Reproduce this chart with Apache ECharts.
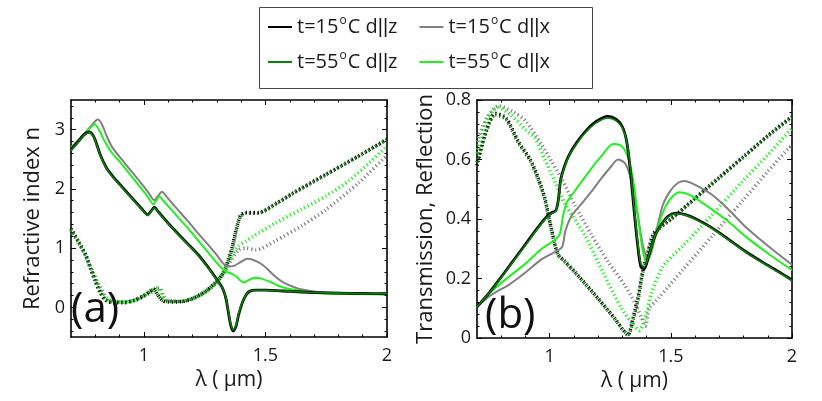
<!DOCTYPE html>
<html><head><meta charset="utf-8">
<script src="https://cdn.jsdelivr.net/npm/echarts@6/dist/echarts.min.js"></script>
<style>html,body{margin:0;padding:0;background:#fff}#c{width:822px;height:401px}</style>
</head><body><div id="c"></div>
<script>
// ---- data ----
const legendNames = ['t=15°C d||z', 't=15°C d||x', 't=55°C d||z', 't=55°C d||x'];
const xTickMajor = [1, 1.5, 2];
const xTickMinor = [0.8, 0.9, 1.1, 1.2, 1.3, 1.4, 1.6, 1.7, 1.8, 1.9];
const yTickMajorA = [0, 1, 2, 3];
const yTickMinorA = [-0.4, -0.2, 0.2, 0.4, 0.6, 0.8, 1.2, 1.4, 1.6, 1.8, 2.2, 2.4, 2.6, 2.8, 3.2, 3.4];
const yTickMajorB = [0, 0.2, 0.4, 0.6, 0.8];
const yTickMinorB = [0.04, 0.08, 0.12, 0.16, 0.24, 0.28, 0.32, 0.36, 0.44, 0.48, 0.52, 0.56, 0.64, 0.68, 0.72, 0.76];

// panel (a): refractive index, real part (solid)
const nRe15z = [[0.70,2.66],[0.73,2.80],[0.755,2.92],[0.775,2.96],[0.79,2.91],[0.80,2.82],[0.82,2.58],[0.845,2.36],[0.87,2.22],[0.90,2.08],[0.95,1.85],[0.99,1.67],[1.016,1.56],[1.03,1.63],[1.043,1.69],[1.06,1.61],[1.10,1.42],[1.15,1.20],[1.20,0.99],[1.225,0.88],[1.26,0.70],[1.29,0.53],[1.307,0.43],[1.325,0.31],[1.338,0.14],[1.348,-0.10],[1.357,-0.30],[1.367,-0.40],[1.378,-0.33],[1.39,-0.12],[1.405,0.08],[1.42,0.21],[1.435,0.27],[1.46,0.29],[1.50,0.29],[1.60,0.27],[1.70,0.25],[1.80,0.24],[1.90,0.235],[2.0,0.23]];
const nRe55z = [[0.70,2.65],[0.73,2.79],[0.755,2.91],[0.775,2.95],[0.79,2.90],[0.80,2.81],[0.82,2.57],[0.845,2.35],[0.87,2.21],[0.90,2.07],[0.95,1.84],[0.99,1.66],[1.016,1.55],[1.03,1.62],[1.043,1.68],[1.06,1.60],[1.10,1.41],[1.15,1.19],[1.20,0.98],[1.225,0.87],[1.26,0.69],[1.29,0.52],[1.307,0.42],[1.325,0.31],[1.338,0.15],[1.348,-0.08],[1.357,-0.28],[1.367,-0.38],[1.378,-0.31],[1.39,-0.10],[1.405,0.09],[1.42,0.21],[1.435,0.27],[1.46,0.29],[1.50,0.29],[1.60,0.27],[1.70,0.25],[1.80,0.24],[1.90,0.235],[2.0,0.23]];
const nRe15x = [[0.70,2.70],[0.74,2.87],[0.78,3.05],[0.81,3.17],[0.827,3.09],[0.848,2.88],[0.87,2.70],[0.90,2.54],[0.936,2.36],[0.99,2.09],[1.02,1.93],[1.042,1.81],[1.058,1.88],[1.074,1.95],[1.095,1.86],[1.128,1.70],[1.18,1.46],[1.225,1.24],[1.27,1.03],[1.30,0.88],[1.32,0.77],[1.342,0.69],[1.37,0.70],[1.40,0.77],[1.425,0.82],[1.45,0.80],[1.48,0.74],[1.51,0.64],[1.54,0.52],[1.57,0.43],[1.60,0.37],[1.64,0.31],[1.70,0.27],[1.78,0.245],[1.88,0.23],[2.0,0.225]];
const nRe55x = [[0.70,2.68],[0.74,2.85],[0.77,2.99],[0.797,3.09],[0.815,3.00],[0.835,2.83],[0.868,2.61],[0.90,2.46],[0.936,2.28],[0.99,2.00],[1.015,1.87],[1.039,1.74],[1.05,1.80],[1.063,1.87],[1.08,1.80],[1.128,1.58],[1.18,1.34],[1.225,1.12],[1.27,0.90],[1.30,0.75],[1.32,0.66],[1.34,0.60],[1.36,0.57],[1.38,0.52],[1.395,0.46],[1.41,0.42],[1.43,0.46],[1.455,0.50],[1.48,0.49],[1.52,0.43],[1.554,0.36],[1.60,0.31],[1.664,0.265],[1.75,0.235],[1.85,0.225],[2.0,0.22]];
// panel (a): imaginary part (dotted)
const nIm15z = [[0.70,1.33],[0.73,1.12],[0.76,0.89],[0.78,0.66],[0.80,0.44],[0.82,0.25],[0.842,0.12],[0.87,0.08],[0.92,0.08],[0.96,0.12],[1.0,0.20],[1.025,0.27],[1.04,0.31],[1.055,0.22],[1.075,0.12],[1.10,0.09],[1.157,0.10],[1.20,0.15],[1.253,0.27],[1.29,0.40],[1.321,0.55],[1.34,0.72],[1.362,1.00],[1.38,1.32],[1.397,1.55],[1.42,1.60],[1.47,1.60],[1.55,1.77],[1.609,1.92],[1.746,2.24],[1.88,2.55],[2.0,2.84]];
const nIm55z = [[0.70,1.32],[0.73,1.11],[0.76,0.88],[0.78,0.66],[0.80,0.45],[0.82,0.26],[0.842,0.13],[0.87,0.09],[0.92,0.09],[0.96,0.12],[1.0,0.20],[1.025,0.27],[1.04,0.30],[1.055,0.22],[1.075,0.12],[1.10,0.10],[1.157,0.10],[1.20,0.15],[1.253,0.27],[1.29,0.40],[1.321,0.55],[1.34,0.71],[1.362,0.98],[1.38,1.30],[1.397,1.53],[1.42,1.59],[1.47,1.59],[1.55,1.76],[1.609,1.91],[1.746,2.23],[1.88,2.54],[2.0,2.83]];
const nIm15x = [[0.70,1.30],[0.73,1.10],[0.76,0.87],[0.79,0.60],[0.82,0.34],[0.85,0.15],[0.88,0.09],[0.93,0.09],[0.98,0.14],[1.02,0.23],[1.05,0.31],[1.065,0.33],[1.08,0.20],[1.10,0.12],[1.15,0.10],[1.20,0.14],[1.25,0.24],[1.30,0.42],[1.33,0.58],[1.36,0.80],[1.39,0.97],[1.42,1.00],[1.46,0.97],[1.54,1.12],[1.65,1.38],[1.746,1.64],[1.883,2.10],[2.0,2.57]];
const nIm55x = [[0.70,1.32],[0.73,1.12],[0.76,0.88],[0.785,0.63],[0.81,0.38],[0.84,0.17],[0.87,0.10],[0.92,0.09],[0.97,0.13],[1.01,0.22],[1.04,0.30],[1.058,0.33],[1.07,0.22],[1.09,0.12],[1.14,0.10],[1.20,0.15],[1.25,0.25],[1.30,0.42],[1.33,0.60],[1.36,0.86],[1.39,1.04],[1.42,1.12],[1.45,1.20],[1.54,1.42],[1.65,1.66],[1.746,1.87],[1.85,2.16],[2.0,2.72]];

// panel (b): transmission (solid)
const T15z = [[0.70,0.105],[0.75,0.152],[0.80,0.205],[0.85,0.26],[0.90,0.315],[0.95,0.37],[0.99,0.41],[1.01,0.422],[1.025,0.428],[1.035,0.46],[1.045,0.53],[1.06,0.575],[1.08,0.615],[1.11,0.655],[1.145,0.692],[1.19,0.727],[1.24,0.745],[1.275,0.735],[1.30,0.71],[1.318,0.66],[1.332,0.57],[1.347,0.44],[1.362,0.32],[1.376,0.24],[1.39,0.232],[1.41,0.28],[1.433,0.34],[1.455,0.375],[1.49,0.41],[1.522,0.42],[1.56,0.415],[1.604,0.40],[1.67,0.37],[1.741,0.33],[1.81,0.29],[1.878,0.255],[1.94,0.225],[2.0,0.195]];
const T55z = [[0.70,0.105],[0.75,0.151],[0.80,0.203],[0.85,0.258],[0.90,0.312],[0.95,0.367],[0.99,0.407],[1.01,0.419],[1.025,0.426],[1.035,0.46],[1.045,0.527],[1.06,0.572],[1.08,0.612],[1.11,0.651],[1.145,0.688],[1.19,0.722],[1.24,0.740],[1.275,0.730],[1.30,0.706],[1.318,0.66],[1.332,0.58],[1.347,0.45],[1.362,0.33],[1.376,0.25],[1.39,0.238],[1.41,0.28],[1.433,0.34],[1.455,0.374],[1.49,0.408],[1.522,0.418],[1.56,0.413],[1.604,0.398],[1.67,0.368],[1.741,0.328],[1.81,0.288],[1.878,0.253],[1.94,0.223],[2.0,0.193]];
const T15x = [[0.70,0.105],[0.75,0.14],[0.79,0.16],[0.83,0.178],[0.90,0.22],[0.967,0.265],[1.035,0.295],[1.052,0.306],[1.065,0.36],[1.09,0.41],[1.13,0.45],[1.17,0.49],[1.21,0.533],[1.25,0.573],[1.282,0.600],[1.31,0.588],[1.33,0.55],[1.345,0.49],[1.362,0.42],[1.385,0.31],[1.405,0.265],[1.42,0.29],[1.44,0.36],[1.467,0.447],[1.50,0.497],[1.53,0.522],[1.556,0.528],[1.60,0.515],[1.673,0.48],[1.74,0.43],[1.81,0.372],[1.90,0.31],[2.0,0.246]];
const T55x = [[0.70,0.105],[0.75,0.15],[0.83,0.205],[0.90,0.25],[0.967,0.30],[1.022,0.33],[1.042,0.35],[1.055,0.41],[1.07,0.455],[1.10,0.49],[1.132,0.526],[1.17,0.568],[1.214,0.612],[1.261,0.652],[1.29,0.648],[1.31,0.632],[1.33,0.59],[1.35,0.50],[1.37,0.37],[1.385,0.29],[1.399,0.256],[1.415,0.28],[1.432,0.33],[1.453,0.39],[1.48,0.445],[1.51,0.478],[1.536,0.49],[1.58,0.48],[1.673,0.43],[1.74,0.39],[1.81,0.34],[1.90,0.285],[2.0,0.228]];
// panel (b): reflection (dotted)
const R15z = [[0.70,0.58],[0.74,0.70],[0.775,0.755],[0.82,0.74],[0.871,0.66],[0.92,0.60],[0.953,0.537],[0.98,0.47],[1.001,0.39],[1.02,0.32],[1.035,0.28],[1.06,0.26],[1.104,0.222],[1.15,0.18],[1.20,0.133],[1.268,0.066],[1.30,0.03],[1.323,0.01],[1.345,0.07],[1.363,0.13],[1.385,0.23],[1.405,0.29],[1.426,0.346],[1.447,0.368],[1.50,0.40],[1.60,0.47],[1.70,0.54],[1.80,0.61],[1.90,0.68],[2.0,0.745]];
const R55z = [[0.70,0.59],[0.74,0.70],[0.775,0.75],[0.82,0.735],[0.871,0.655],[0.92,0.595],[0.953,0.532],[0.98,0.465],[1.001,0.385],[1.02,0.318],[1.035,0.28],[1.06,0.258],[1.104,0.22],[1.15,0.178],[1.20,0.131],[1.268,0.065],[1.30,0.03],[1.325,0.012],[1.347,0.07],[1.365,0.13],[1.387,0.23],[1.407,0.29],[1.428,0.345],[1.449,0.366],[1.50,0.398],[1.60,0.468],[1.70,0.538],[1.80,0.608],[1.90,0.678],[2.0,0.742]];
const R15x = [[0.70,0.66],[0.74,0.74],[0.79,0.78],[0.85,0.76],[0.90,0.73],[0.967,0.65],[1.01,0.59],[1.049,0.536],[1.104,0.447],[1.173,0.346],[1.241,0.256],[1.31,0.177],[1.35,0.12],[1.378,0.07],[1.395,0.04],[1.412,0.10],[1.45,0.135],[1.55,0.23],[1.673,0.345],[1.80,0.465],[1.90,0.56],[2.0,0.65]];
const R55x = [[0.70,0.62],[0.74,0.73],[0.785,0.775],[0.84,0.75],[0.90,0.70],[0.94,0.67],[0.98,0.60],[1.022,0.525],[1.063,0.45],[1.145,0.346],[1.22,0.22],[1.296,0.10],[1.34,0.05],[1.37,0.025],[1.39,0.06],[1.42,0.15],[1.467,0.24],[1.55,0.31],[1.673,0.417],[1.80,0.53],[1.90,0.615],[2.0,0.705]];

// ---- style ----
const FONT = 'Open Sans';
const C_BLACK = '#000000', C_DKGREEN = '#0a800a', C_GRAY = '#808080', C_LTGREEN = '#22ee22';
const txt = '#1a1a1a';

function xAxesFor(gi, name) {
  const base = {type: 'value', gridIndex: gi, min: 0.7, max: 2, splitLine: {show: false}, axisPointer: {show: false}};
  const line = {show: true, onZero: false, lineStyle: {color: '#000', width: 1.6}};
  const maj = {show: true, inside: true, length: 5, customValues: xTickMajor, lineStyle: {color: '#000', width: 1}};
  const mnr = {show: true, inside: true, length: 2.5, customValues: xTickMinor, lineStyle: {color: '#000', width: 1}};
  return [
    Object.assign({}, base, {position: 'bottom', axisLine: line, axisTick: maj,
      axisLabel: {show: true, customValues: xTickMajor, margin: 10, fontSize: 18, color: txt, fontFamily: FONT},
      name: name, nameLocation: 'middle', nameGap: 28, nameTextStyle: {fontSize: 21, color: txt, fontFamily: FONT}}),
    Object.assign({}, base, {position: 'bottom', axisLine: {show: false, onZero: false}, axisTick: mnr, axisLabel: {show: false}}),
    Object.assign({}, base, {position: 'top', axisLine: line, axisTick: maj, axisLabel: {show: false}}),
    Object.assign({}, base, {position: 'top', axisLine: {show: false, onZero: false}, axisTick: mnr, axisLabel: {show: false}})
  ];
}
function yAxesFor(gi, min, max, majors, minors, name, nameGap) {
  const base = {type: 'value', gridIndex: gi, min: min, max: max, splitLine: {show: false}, axisPointer: {show: false}};
  const line = {show: true, onZero: false, lineStyle: {color: '#000', width: 1.6}};
  const maj = {show: true, inside: true, length: 5, customValues: majors, lineStyle: {color: '#000', width: 1}};
  const mnr = {show: true, inside: true, length: 2.5, customValues: minors, lineStyle: {color: '#000', width: 1}};
  return [
    Object.assign({}, base, {position: 'left', axisLine: line, axisTick: maj,
      axisLabel: {show: true, customValues: majors, margin: 6, fontSize: 18, color: txt, fontFamily: FONT},
      name: name, nameLocation: 'middle', nameGap: nameGap, nameTextStyle: {fontSize: 22, color: txt, fontFamily: FONT}}),
    Object.assign({}, base, {position: 'left', axisLine: {show: false, onZero: false}, axisTick: mnr, axisLabel: {show: false}}),
    Object.assign({}, base, {position: 'right', axisLine: line, axisTick: maj, axisLabel: {show: false}}),
    Object.assign({}, base, {position: 'right', axisLine: {show: false, onZero: false}, axisTick: mnr, axisLabel: {show: false}})
  ];
}

function solid(name, data, color, width, axis) {
  return {type: 'line', name: name, data: data, xAxisIndex: axis, yAxisIndex: axis, color: color,
    showSymbol: false, symbol: 'none', smooth: 0.25,
    lineStyle: {color: color, width: width, join: 'round'}, silent: true, z: 3};
}
function dotted(name, data, color, axis) {
  return {type: 'line', name: name, data: data, xAxisIndex: axis, yAxisIndex: axis, color: color,
    showSymbol: false, symbol: 'none', smooth: 0.25,
    lineStyle: {color: color, width: 3.6, type: [1.2, 2.8], cap: 'butt'}, silent: true, z: 2};
}

const supFmt = function (n) {
  const p = n.split('°');
  const rest = p[1].split('||');
  return '{t|' + p[0] + '}{s|o}{t|' + rest[0] + '}{b|||}{t|' + rest[1] + '}';
};
const legendText = {color: txt, rich: {
  t: {fontSize: 20, fontFamily: FONT, color: txt},
  b: {fontSize: 20, fontFamily: 'Liberation Sans', color: txt},
  s: {fontSize: 12, fontFamily: FONT, color: txt, padding: [0, 1, 12, 1]}
}};

const option = {
  animation: false,
  backgroundColor: '#fff',
  grid: [
    {left: 71, top: 100, width: 316, height: 237, containLabel: false},
    {left: 477, top: 100, width: 315, height: 238, containLabel: false}
  ],
  xAxis: xAxesFor(0, 'λ ( μm)').concat(xAxesFor(1, 'λ ( μm)')),
  yAxis: yAxesFor(0, -0.5, 3.5, yTickMajorA, yTickMinorA, 'Refractive index n', 27)
    .concat(yAxesFor(1, 0, 0.8, yTickMajorB, yTickMinorB, 'Transmission, Reflection', 40)),
  title: [
    {text: '(a)', left: 71, top: 289, padding: 0, textStyle: {fontSize: 42, fontWeight: 'normal', color: '#111', fontFamily: FONT}},
    {text: '(b)', left: 485, top: 295, padding: 0, textStyle: {fontSize: 42, fontWeight: 'normal', color: '#111', fontFamily: FONT}}
  ],
  graphic: [{type: 'rect', left: 259, top: 7, shape: {width: 333, height: 81}, style: {fill: '#fff', stroke: '#444', lineWidth: 1}, z: 0}],
  legend: [
    {data: [legendNames[0], legendNames[1]], left: 268, top: 15, itemGap: 22, itemWidth: 24, itemHeight: 2, icon: 'rect',
      formatter: supFmt, textStyle: legendText, padding: 0, selectedMode: false, z: 5},
    {data: [legendNames[2], legendNames[3]], left: 268, top: 50, itemGap: 22, itemWidth: 24, itemHeight: 2, icon: 'rect',
      formatter: supFmt, textStyle: legendText, padding: 0, selectedMode: false, z: 5}
  ],
  series: [
    dotted('Im 15x', nIm15x, C_GRAY, 0),
    dotted('Im 55x', nIm55x, C_LTGREEN, 0),
    dotted('Im 15z', nIm15z, C_BLACK, 0),
    dotted('Im 55z', nIm55z, C_DKGREEN, 0),
    solid(legendNames[1], nRe15x, C_GRAY, 2, 0),
    solid(legendNames[3], nRe55x, C_LTGREEN, 2, 0),
    solid(legendNames[0], nRe15z, C_BLACK, 2.8, 0),
    solid(legendNames[2], nRe55z, C_DKGREEN, 1.6, 0),
    dotted('R 15x', R15x, C_GRAY, 4),
    dotted('R 55x', R55x, C_LTGREEN, 4),
    dotted('R 15z', R15z, C_BLACK, 4),
    dotted('R 55z', R55z, C_DKGREEN, 4),
    solid(legendNames[1], T15x, C_GRAY, 2, 4),
    solid(legendNames[3], T55x, C_LTGREEN, 2, 4),
    solid(legendNames[0], T15z, C_BLACK, 2.8, 4),
    solid(legendNames[2], T55z, C_DKGREEN, 1.6, 4)
  ]
};
const chart = echarts.init(document.getElementById('c'), null, {renderer: 'canvas'});
chart.setOption(option);
</script></body></html>
